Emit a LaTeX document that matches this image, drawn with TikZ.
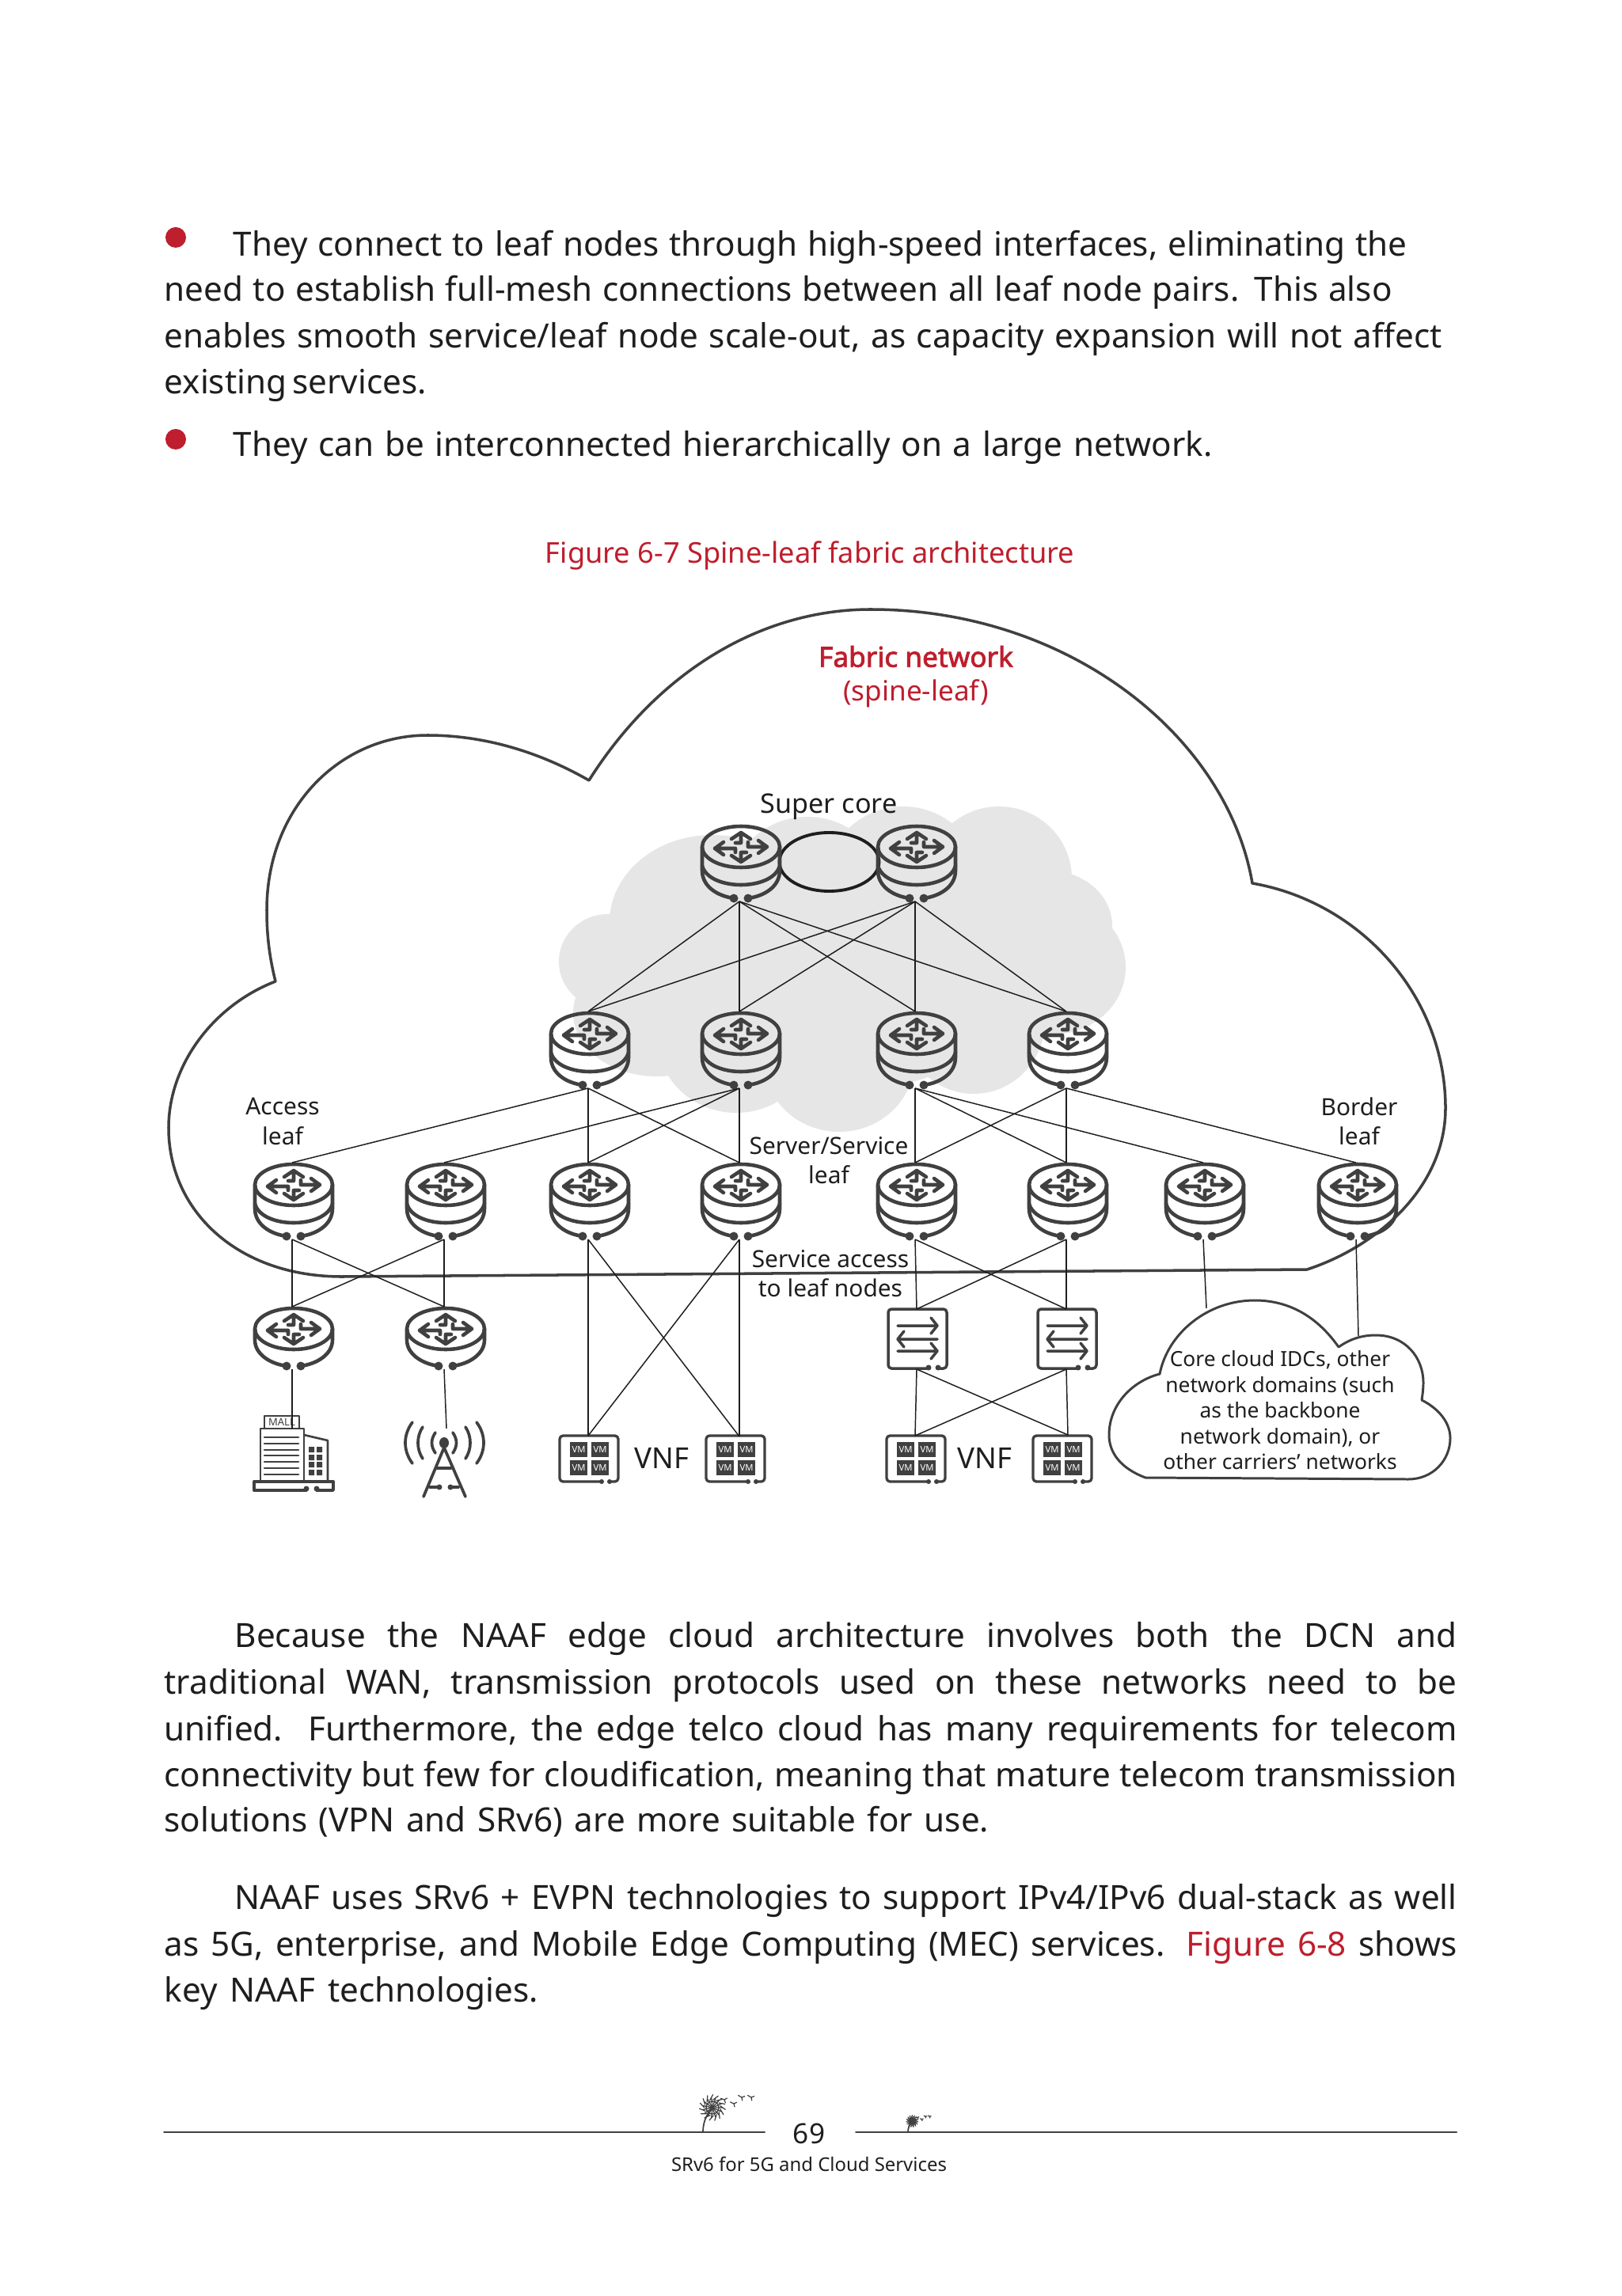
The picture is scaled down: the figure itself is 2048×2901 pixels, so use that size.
\documentclass[tikz,border=0pt]{standalone}
\usepackage{fontspec}
\setmainfont{Noto Sans}
\newfontfamily\fabricbold[FakeBold=2.2]{Noto Sans}
\usetikzlibrary{positioning,calc}
\definecolor{huaweired}{RGB}{190,30,45}
\definecolor{icongray}{RGB}{64,64,64}
\definecolor{cloudgray}{RGB}{230,230,230}
\definecolor{inkblack}{RGB}{30,30,30}
\tikzset{
  bodytext/.style={anchor=base west,inner sep=0pt,text=inkblack,font=\fontsize{12pt}{15pt}\selectfont},
  figlabel/.style={inner sep=0pt,align=center,text=inkblack,font=\fontsize{8.5pt}{10.6pt}\selectfont},
  cloudtext/.style={inner sep=0pt,align=center,text=inkblack,font=\fontsize{7.5pt}{9.25pt}\selectfont},
  link/.style={inkblack,line width=0.42pt},
  iconline/.style={icongray,line width=1.3pt,line cap=round,line join=round},
  iconthin/.style={icongray,line width=0.75pt,line cap=round,line join=round},
  bulletdot/.style={circle,fill=huaweired,inner sep=0pt,minimum size=0.26cm},
  pics/routerhead/.style={code={
    \draw[iconline] (0,0) ellipse [x radius=49,y radius=26];
    \draw[iconline] (-22,-6)--(-33,2)--(-22,10) (-33,2)--(-7,2)--(-7,7);
    \draw[iconline] (22,-8)--(33,0)--(22,8) (33,0)--(9,0)--(9,-6);
    \draw[iconline] (-12,-10)--(0,-18)--(12,-10) (0,-18)--(0,-5)--(-7,-5);
    \draw[iconline] (-12,11)--(0,19)--(12,11) (0,19)--(0,7)--(7,7);
    \fill[icongray] (-9,#1) circle (5.5) (9,#1) circle (5.5);
  }},
  pics/routertwo/.style={code={
    \pic {routerhead=65};
    \draw[iconline] (-49,24) .. controls (-40,56) and (40,56) .. (49,24);
    \draw[iconline] (-49,0)--(-49,30) .. controls (-49,50) and (-30,62) .. (-9,65);
    \draw[iconline] (49,0)--(49,30) .. controls (49,50) and (30,62) .. (9,65);
    \coordinate (-top) at (-2,-28);
    \coordinate (-bot) at (-2,69);
  }},
  pics/routerone/.style={code={
    \pic {routerhead=47};
    \draw[iconline] (-49,0)--(-49,14) .. controls (-49,32) and (-30,44) .. (-9,47);
    \draw[iconline] (49,0)--(49,14) .. controls (49,32) and (30,44) .. (9,47);
    \coordinate (-top) at (-2,-28);
    \coordinate (-bot) at (-2,51);
  }},
  pics/switchbox/.style={code={
    \draw[iconthin,line width=1pt,rounded corners=1.2pt] (13,37)--(-37,37)--(-37,-38)--(37,-38)--(37,37)--(27,37);
    \fill[icongray] (14,36) circle (3.5) (26,36) circle (3.5);
    \draw[iconthin,line width=1pt] (-25,-17)--(25,-17) (17,-27)--(25,-17)--(17,-7);
    \draw[iconthin,line width=1pt] (-25,0)--(25,0) (-17,-10)--(-25,0)--(-17,10);
    \draw[iconthin,line width=1pt] (-25,15)--(25,15) (17,5)--(25,15)--(17,25);
    \coordinate (-top) at (-1,-38);
    \coordinate (-bot) at (-1,38);
  }},
  pics/vnfbox/.style={code={
    \draw[iconthin,line width=0.95pt,rounded corners=1.2pt] (15,29)--(-37,29)--(-37,-29)--(37,-29)--(37,29)--(27,29);
    \fill[icongray] (16,29) circle (3) (26,29) circle (3);
    \foreach \vx/\vy in {-13/-12,14/-12,-13/11,14/11}{
      \node[fill=icongray,text=white,inner sep=0pt,minimum width=0.22cm,minimum height=0.19cm,font=\fontsize{3.2pt}{4pt}\selectfont] (-vm\vx\vy) at (\vx,\vy) {VM};
    }
    \coordinate (-top) at (-1,-29);
  }},
  pics/mallicon/.style={code={
    \draw[iconthin] (-42,36)--(-42,-31)--(13,-31)--(13,36);
    \draw[iconthin] (-37,-31)--(-37,-47)--(7,-47)--(7,-31);
    \node[inner sep=0pt,text=icongray,font=\fontsize{3.7pt}{5pt}\selectfont] (-sign) at (-15,-39) {MALL};
    \draw[iconthin] (13,-23)--(43,-16)--(43,36);
    \foreach \ly in {-20,-12,-4,3,11,19,27} \draw[iconthin] (-37,\ly)--(6,\ly);
    \foreach \wy in {-8,2,11,21} \fill[icongray] (19,\wy) rectangle +(7,7) (29,\wy) rectangle +(7,7);
    \draw[iconthin,line width=0.95pt] (16,47)--(-50,47)--(-50,36)--(50,36)--(50,47)--(29,47);
    \fill[icongray] (16,45) circle (3.5) (29,45) circle (3.5);
    \coordinate (-top) at (-2,-31);
  }},
  pics/towericon/.style={code={
    \fill[icongray] (0,0) ellipse [x radius=6,y radius=7];
    \draw[iconthin,line width=1.05pt] (0,6)--(-26,68) (0,6)--(27,68) (-9,32)--(9,32);
    \draw[iconthin,line width=1.05pt] (-18,56)--(-6,56) (18,56)--(8,56);
    \fill[icongray] (-6,56) circle (3.5) (8,56) circle (3.5);
    \draw[iconthin,line width=1.05pt] (-11,-13) .. controls (-17,-4) and (-17,4) .. (-11,13);
    \draw[iconthin,line width=1.05pt] (11,-13) .. controls (17,-4) and (17,4) .. (11,13);
    \draw[iconthin,line width=1.05pt] (-27,-20) .. controls (-35,-8) and (-35,8) .. (-27,20);
    \draw[iconthin,line width=1.05pt] (27,-20) .. controls (35,-8) and (35,8) .. (27,20);
    \draw[iconthin,line width=1.05pt] (-40,-26) .. controls (-52,-10) and (-52,10) .. (-40,26);
    \draw[iconthin,line width=1.05pt] (41,-26) .. controls (53,-10) and (53,10) .. (41,26);
    \coordinate (-top) at (3,-18);
  }},
  pics/dandelion/.style={code={
    \draw[iconthin,line width=0.5pt] (0,0) .. controls (0,-12) and (4,-22) .. (12,-31);
    \foreach \ang in {0,24,...,336}{
      \draw[iconthin,line width=0.35pt] (12,-31)--++(\ang:13) ++(\ang+35:4)--++(\ang-145:8);
    }
    \draw[iconthin,line width=0.4pt] (12,-31) circle (8);
    \foreach \sx/\sy/\ang in {27/-41/20,39/-36/25,49/-44/30,61/-44/30}{
      \draw[iconthin,line width=0.35pt] (\sx,\sy)--++(\ang:-5) (\sx,\sy)--++(\ang+50:4) (\sx,\sy)--++(\ang-50:4);
    }
  }},
}
\begin{document}
\begin{tikzpicture}[x=0.01cm,y=-0.01cm]
\useasboundingbox (0,0) rectangle (2048,2901);
\fill[white] (0,0) rectangle (2048,2901);

% page text
\node[bulletdot] (dot1) at (222,300) {};
\node[bulletdot] (dot2) at (222,555) {};
\foreach \i/\xs/\ys/\lw/\txt in {
  1/294/324/14.82cm/{They connect to leaf nodes through high-speed interfaces, eliminating the},
  2/207/381/15.5cm/{need to establish full-mesh connections between all leaf node pairs. This also},
  3/207/440/16.13cm/{enables smooth service/leaf node scale-out, as capacity expansion will not affect},
  4/207/498/3.29cm/{existing services.},
  5/294/577/12.36cm/{They can be interconnected hierarchically on a large network.},
  6/296/2081/15.43cm/{Because the NAAF edge cloud architecture involves both the DCN and},
  7/207/2140/16.32cm/{traditional WAN, transmission protocols used on these networks need to be},
  8/207/2199/16.32cm/{unified. Furthermore, the edge telco cloud has many requirements for telecom},
  9/207/2257/16.32cm/{connectivity but few for cloudification, meaning that mature telecom transmission},
  10/207/2314/10.41cm/{solutions (VPN and SRv6) are more suitable for use.},
  11/296/2412/15.43cm/{NAAF uses SRv6 + EVPN technologies to support IPv4/IPv6 dual-stack as well},
  12/207/2471/16.32cm/{as 5G, enterprise, and Mobile Edge Computing (MEC) services. \textcolor{huaweired}{Figure 6-8} shows},
  13/207/2529/4.72cm/{key NAAF technologies.}}{
  \node[bodytext] (line\i) at (\xs,\ys) {\makebox[\lw][s]{\txt}};
}
\node[inner sep=0pt,text=huaweired,font=\fontsize{10.3pt}{13pt}\selectfont] (figcaption) at (1023,702) {Figure 6-7 Spine-leaf fabric architecture};

% clouds
\foreach \cx/\cy/\rx/\ry in {900/1165/130/110,768/1215/62/60,1020/1130/100/98,1141/1119/100/100,1262/1110/92/91,
  1325/1170/80/70,1330/1222/92/85,1230/1290/90/92,1060/1340/95/90,930/1310/100/96,830/1280/106/80,1050/1230/250/150}{
  \fill[cloudgray] (\cx,\cy) ellipse [x radius=\rx,y radius=\ry];
}
\draw[iconthin,line width=1pt] (744,986) .. controls (830,850) and (960,770) .. (1100,770)
  .. controls (1350,770) and (1550,930) .. (1582,1116)
  .. controls (1720,1140) and (1826,1260) .. (1826,1400)
  .. controls (1826,1500) and (1740,1575) .. (1651,1604) -- (432,1613)
  .. controls (300,1613) and (213,1530) .. (213,1425)
  .. controls (213,1345) and (270,1270) .. (348,1240)
  .. controls (338,1200) and (337,1170) .. (337,1150)
  .. controls (337,1020) and (430,929) .. (540,929)
  .. controls (620,929) and (690,955) .. (744,986);
\draw[iconthin,line width=0.85pt] (1447,1867) .. controls (1415,1855) and (1401,1835) .. (1401,1813)
  .. controls (1401,1775) and (1430,1745) .. (1465,1736)
  .. controls (1475,1685) and (1525,1643) .. (1585,1643)
  .. controls (1630,1643) and (1665,1665) .. (1691,1702)
  .. controls (1705,1692) and (1720,1687) .. (1738,1687)
  .. controls (1775,1687) and (1798,1715) .. (1798,1747)
  .. controls (1798,1755) and (1797,1762) .. (1796,1769)
  .. controls (1818,1780) and (1832,1798) .. (1832,1817)
  .. controls (1832,1845) and (1810,1869) .. (1779,1869) -- cycle;
\coordinate (idcpeak) at (1524,1653);
\coordinate (idclobe) at (1716,1688);

% ring between the super core nodes
\draw[inkblack,line width=1.1pt] (1047.5,1089) ellipse [x radius=63,y radius=37];

% routers
\foreach \n/\x/\y in {sc1/936/1070,sc2/1158/1070,
  spn1/745/1306,spn2/936/1306,spn3/1158/1306,spn4/1349/1306,
  lf1/371/1497,lf2/563/1497,lf3/745/1497,lf4/936/1497,lf5/1158/1497,lf6/1349/1497,lf7/1522/1497,lf8/1715/1497}{
  \pic (\n) at (\x,\y) {routertwo};
}
\pic (acc1) at (371,1679) {routerone};
\pic (acc2) at (563,1679) {routerone};
\pic (sw1) at (1159,1692) {switchbox};
\pic (sw2) at (1348,1692) {switchbox};
\foreach \n/\x in {vnf1/744,vnf2/929,vnf3/1157,vnf4/1342}{
  \pic (\n) at (\x,1843) {vnfbox};
}
\pic (mall) at (371,1836) {mallicon};
\pic (tower) at (561,1823) {towericon};
\coordinate (vnf2port) at (934,1815);
\coordinate (vnf4port) at (1349,1813);

% links
\foreach \a/\b in {sc1/spn1,sc1/spn2,sc1/spn3,sc1/spn4,sc2/spn1,sc2/spn2,sc2/spn3,sc2/spn4,
  spn1/lf1,spn1/lf3,spn1/lf4,spn2/lf2,spn2/lf3,spn2/lf4,spn3/lf5,spn3/lf6,spn3/lf7,spn4/lf5,spn4/lf6,spn4/lf8,
  lf1/acc1,lf1/acc2,lf2/acc1,lf2/acc2,lf5/sw1,lf5/sw2,lf6/sw1,lf6/sw2}{
  \draw[link] (\a-bot) -- (\b-top);
}
\draw[link] (acc1-bot) -- (mall-top);
\draw[link] (acc2-bot) -- (tower-top);
\foreach \a/\b in {lf3/vnf1-top,lf3/vnf2port,lf4/vnf1-top,lf4/vnf2port}{
  \draw[link] (\a-bot) -- (\b);
}
\foreach \a/\b in {sw1/vnf3-top,sw1/vnf4port,sw2/vnf3-top,sw2/vnf4port}{
  \draw[link] (\a-bot) -- (\b);
}
\draw[link] (lf7-bot) -- (idcpeak);
\draw[link] (lf8-bot) -- (idclobe);

% labels
\node[inner sep=0pt,align=center,text=huaweired,font=\fontsize{10pt}{12.2pt}\selectfont] (fabric) at (1157,855) {{\fabricbold Fabric network}\\(spine-leaf)};
\node[figlabel,font=\fontsize{9.7pt}{12pt}\selectfont] (supercore) at (1047,1019) {Super core};
\node[figlabel] (accessleaf) at (357,1417) {Access\\leaf};
\node[figlabel] (borderleaf) at (1717,1417) {Border\\leaf};
\node[figlabel] (serverleaf) at (1047,1466) {Server/Service\\leaf};
\node[figlabel] (serviceaccess) at (1049,1609) {Service access\\to leaf nodes};
\node[figlabel,font=\fontsize{10.4pt}{12pt}\selectfont] (vnfa) at (836,1842) {VNF};
\node[figlabel,font=\fontsize{10.4pt}{12pt}\selectfont] (vnfb) at (1244,1842) {VNF};
\node[cloudtext] (idctext) at (1617,1782) {Core cloud IDCs, other\\network domains (such\\as the backbone\\network domain), or\\other carriers' networks};

% footer
\draw[iconthin,line width=0.55pt] (207,2694)--(966,2694);
\draw[iconthin,line width=0.55pt] (1081,2694)--(1840,2694);
\pic (seedbig) at (888,2694) {dandelion};
\pic[scale=0.45] (seedsmall) at (1147,2694) {dandelion};
\node[inner sep=0pt,text=inkblack,font=\fontsize{10pt}{12pt}\selectfont] (pagenum) at (1022,2696) {69};
\node[inner sep=0pt,text=inkblack,font=\fontsize{6.8pt}{9pt}\selectfont] (booktitle) at (1022,2734) {SRv6 for 5G and Cloud Services};
\end{tikzpicture}
\end{document}
